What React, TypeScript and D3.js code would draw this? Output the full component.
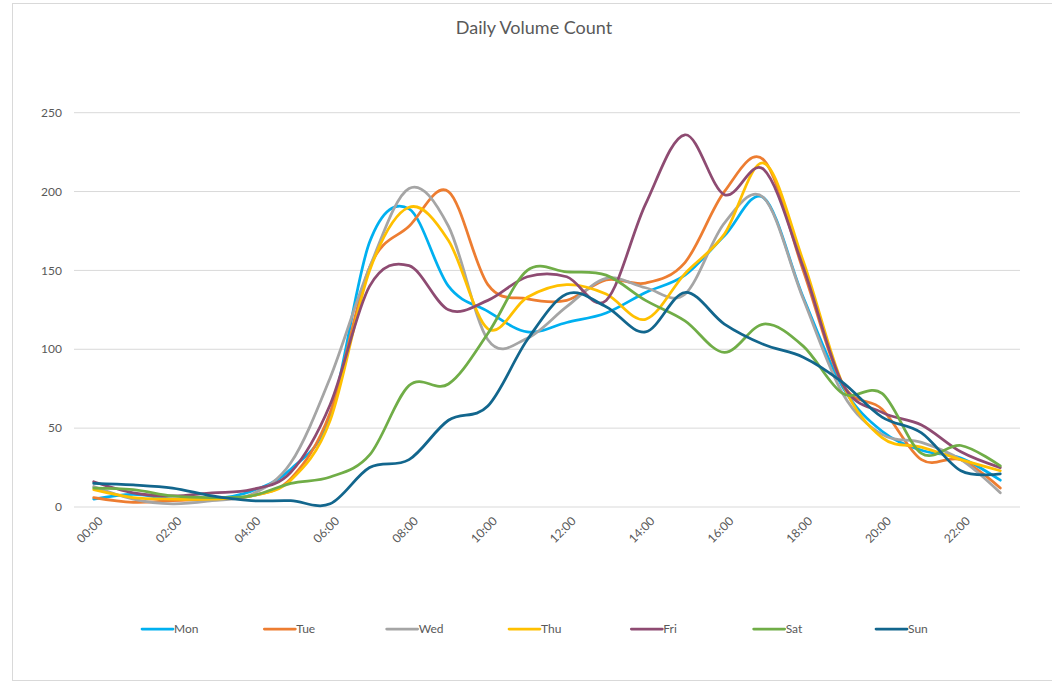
import React from "react";
import * as d3 from "d3";

const hours = d3.range(24).map((h) => (h < 10 ? "0" + h : "" + h) + ":00");
const yTicks = [0, 50, 100, 150, 200, 250];

const mon = [5, 8, 5, 5, 10, 24, 58, 168, 189, 140, 124, 111, 117, 123, 136, 147, 172, 196, 133, 76, 48, 36, 31, 17];
const tue = [6, 3, 4, 5, 7, 18, 60, 152, 178, 200, 141, 132, 131, 144, 142, 155, 200, 220, 150, 78, 62, 30, 30, 12];
const wed = [13, 5, 2, 4, 8, 28, 82, 152, 202, 178, 106, 107, 127, 145, 139, 135, 180, 196, 132, 72, 46, 41, 30, 9];
const thu = [11, 6, 5, 5, 7, 17, 55, 150, 190, 169, 113, 133, 141, 135, 119, 148, 173, 218, 156, 78, 44, 38, 30, 23];
const fri = [16, 9, 7, 9, 11, 22, 65, 140, 153, 125, 131, 146, 146, 131, 192, 236, 198, 214, 152, 78, 60, 52, 35, 25];
const sat = [12, 11, 7, 6, 7, 15, 19, 33, 77, 78, 110, 150, 149, 147, 131, 118, 98, 116, 102, 72, 72, 34, 39, 26];
const sun = [15, 14, 12, 7, 4, 4, 2, 25, 30, 55, 64, 106, 135, 127, 111, 136, 116, 103, 95, 79, 57, 47, 23, 21];

const seriesNames = ["Mon", "Tue", "Wed", "Thu", "Fri", "Sat", "Sun"];
const seriesValues = [mon, tue, wed, thu, fri, sat, sun];
const colors = ["#00B0F0", "#ED7D31", "#A5A5A5", "#FFC000", "#8E4B72", "#70AD47", "#12668D"];

const W = 1052;
const H = 682;
const font = "Lato, 'Open Sans', sans-serif";

export default function App() {
  const x = d3.scaleBand().domain(hours).range([74, 1020]);
  const y = d3.scaleLinear().domain([0, 250]).range([507, 112.7]);
  const cx = (h: string) => (x(h) as number) + x.bandwidth() / 2;

  const line = d3
    .line<number>()
    .x((d, i) => cx(hours[i]))
    .y((d) => y(d))
    .curve(d3.curveCatmullRom.alpha(0));

  const legend = d3.scalePoint().domain(seriesNames).range([142, 876]);

  return (
    <svg
      width={W}
      height={H}
      style={{ position: "absolute", left: 0, top: 0, background: "#fff" }}
      fontFamily={font}
    >
      <rect x={12.5} y={3.5} width={W + 10} height={677} fill="#fff" stroke="#d9d9d9" />
      <text x={534} y={34} textAnchor="middle" fontSize={18} fill="#595959">
        Daily Volume Count
      </text>

      {yTicks.map((t) => (
        <g key={t}>
          <line x1={74} x2={1020} y1={y(t)} y2={y(t)} stroke="#d9d9d9" strokeWidth={1} />
          <text x={62} y={y(t)} dy="0.35em" textAnchor="end" fontSize={12} fill="#595959">
            {t}
          </text>
        </g>
      ))}

      {hours
        .filter((h, i) => i % 2 === 0)
        .map((h) => (
          <text
            key={h}
            transform={`translate(${cx(h) + 4},${516}) rotate(-45)`}
            dy="0.7em"
            textAnchor="end"
            fontSize={12}
            fill="#595959"
          >
            {h}
          </text>
        ))}

      {seriesValues.map((vals, i) => (
        <path
          key={seriesNames[i]}
          d={line(vals) || ""}
          fill="none"
          stroke={colors[i]}
          strokeWidth={2.75}
          strokeLinecap="round"
        />
      ))}

      {seriesNames.map((name, i) => {
        const lx = legend(name) as number;
        return (
          <g key={name}>
            <line x1={lx} x2={lx + 31} y1={629} y2={629} stroke={colors[i]} strokeWidth={2.75} strokeLinecap="round" />
            <text x={lx + 32} y={629} dy="0.35em" fontSize={12} fill="#595959">
              {name}
            </text>
          </g>
        );
      })}
    </svg>
  );
}
